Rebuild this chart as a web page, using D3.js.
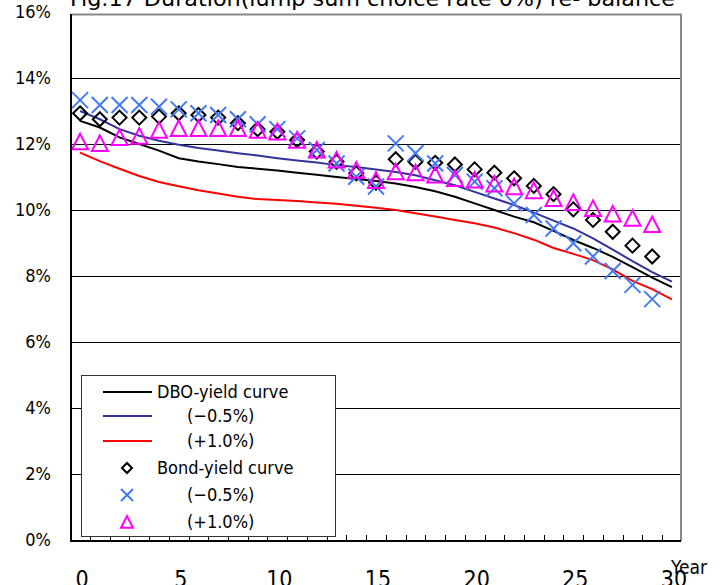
<!DOCTYPE html>
<html>
<head>
<meta charset="utf-8">
<script src="https://cdn.jsdelivr.net/npm/d3@7"></script>
<style>
  body { margin: 0; background: #fff; }
  svg text { font-family: "Liberation Sans Narrow", "DejaVu Sans Condensed", "Liberation Sans", sans-serif; fill: #000; }
</style>
</head>
<body>
<div id="chart"></div>
<script>
// years for lines (0..30) and markers (0..29)
const lineYears = d3.range(0, 31);
const markYears = d3.range(0, 30);

// DBO-yield curve lines (%)
const dboBase = [12.7, 12.5, 12.2, 12.0, 11.8, 11.57, 11.47, 11.39, 11.3, 11.25, 11.2, 11.13, 11.07, 11.0, 10.94, 10.88,
  10.8, 10.7, 10.57, 10.4, 10.2, 10.0, 9.8, 9.63, 9.37, 9.09, 8.85, 8.58, 8.27, 7.95, 7.66];
const dboMinus = [13.0, 12.75, 12.45, 12.25, 12.1, 11.98, 11.88, 11.8, 11.72, 11.65, 11.57, 11.5, 11.44, 11.36, 11.3, 11.23,
  11.15, 11.05, 10.9, 10.75, 10.55, 10.35, 10.15, 9.92, 9.68, 9.44, 9.14, 8.8, 8.45, 8.12, 7.83];
const dboPlus = [11.74, 11.48, 11.25, 11.03, 10.85, 10.72, 10.6, 10.5, 10.4, 10.33, 10.3, 10.27, 10.23, 10.19, 10.13, 10.07,
  10.0, 9.9, 9.8, 9.7, 9.6, 9.47, 9.3, 9.1, 8.85, 8.67, 8.48, 8.2, 7.85, 7.6, 7.29];

// Bond-yield curve markers (%)
const bondBase = [12.93, 12.75, 12.8, 12.8, 12.83, 12.93, 12.88, 12.8, 12.63, 12.45, 12.37, 12.12, 11.77, 11.46, 11.11, 10.83,
  11.54, 11.46, 11.43, 11.38, 11.23, 11.13, 10.96, 10.73, 10.48, 10.02, 9.7, 9.34, 8.92, 8.59];
const bondMinus = [13.33, 13.18, 13.18, 13.18, 13.13, 13.05, 12.93, 12.88, 12.75, 12.6, 12.45, 12.17, 11.82, 11.41, 11.01, 10.71,
  12.02, 11.72, 11.41, 11.06, 10.86, 10.66, 10.2, 9.85, 9.44, 8.99, 8.59, 8.15, 7.73, 7.3];
const bondPlus = [12.07, 12.02, 12.2, 12.24, 12.42, 12.47, 12.47, 12.47, 12.47, 12.42, 12.37, 12.12, 11.82, 11.52, 11.21, 10.9,
  11.16, 11.13, 11.06, 10.96, 10.91, 10.79, 10.71, 10.59, 10.35, 10.23, 10.05, 9.88, 9.75, 9.56];

const yTicks = [0, 2, 4, 6, 8, 10, 12, 14, 16];
const xTicks = [0, 5, 10, 15, 20, 25, 30];
const titleText = "Fig.17 Duration(lump sum choice rate 0%) re- balance";

const lineSeries = [
  { name: "DBO-yield curve", values: dboBase, color: "#000000" },
  { name: "(\u22120.5%)", values: dboMinus, color: "#333399" },
  { name: "(+1.0%)", values: dboPlus, color: "#ff0000" }
];
const markSeries = [
  { name: "Bond-yield curve", values: bondBase, color: "#000000", shape: "diamond" },
  { name: "(\u22120.5%)", values: bondMinus, color: "#4479f5", shape: "cross" },
  { name: "(+1.0%)", values: bondPlus, color: "#ff00ff", shape: "triangle" }
];

var w = 724, h = 585;
var plot = { left: 71, right: 681, top: 14, bottom: 541 };

var svg = d3.select("#chart").append("svg")
  .attr("width", w).attr("height", h);

var x = d3.scaleLinear().domain([-0.46, 30.46]).range([plot.left, plot.right]);
var y = d3.scaleLinear().domain([0, 16]).range([540, 12]);

// title (cut at the top edge)
svg.append("text")
  .attr("x", 70).attr("y", 6)
  .attr("textLength", 605).attr("lengthAdjust", "spacingAndGlyphs")
  .style("font-size", "22px")
  .text(titleText);

// gridlines
svg.append("g")
  .selectAll("line")
  .data(yTicks.filter(d => d > 0 && d < 16))
  .join("line")
  .attr("x1", plot.left).attr("x2", plot.right)
  .attr("y1", d => Math.round(y(d)) + 0.5).attr("y2", d => Math.round(y(d)) + 0.5)
  .attr("stroke", "#000").attr("stroke-width", 1);

// frame: top and right gray
svg.append("path")
  .attr("d", `M${plot.left},${plot.top + 0.5} H${plot.right} V${plot.bottom}`)
  .attr("fill", "none").attr("stroke", "#888").attr("stroke-width", 2);

// y tick labels
svg.append("g")
  .selectAll("text")
  .data(yTicks)
  .join("text")
  .attr("x", 51).attr("y", d => y(d) + 6)
  .attr("text-anchor", "end")
  .style("font-size", "18px")
  .text(d => d + "%");

// lines
var line = d3.line()
  .x((d, i) => x(lineYears[i]))
  .y(d => y(d));

svg.append("g")
  .selectAll("path")
  .data(lineSeries)
  .join("path")
  .attr("fill", "none")
  .attr("stroke", d => d.color)
  .attr("stroke-width", 2)
  .attr("d", d => line(d.values));

// marker shapes
function drawMarker(g, shape, color, s) {
  if (shape == "diamond") {
    g.append("path")
      .attr("d", `M0,${-s} L${s},0 L0,${s} L${-s},0 Z`)
      .attr("fill", "none").attr("stroke", color).attr("stroke-width", 2);
  } else if (shape == "cross") {
    g.append("path")
      .attr("d", `M${-s},${-s} L${s},${s} M${-s},${s} L${s},${-s}`)
      .attr("fill", "none").attr("stroke", color).attr("stroke-width", 2);
  } else {
    g.append("path")
      .attr("d", `M0,${-s} L${s},${s * 0.95} L${-s},${s * 0.95} Z`)
      .attr("fill", "none").attr("stroke", color).attr("stroke-width", 2);
  }
}

var markSize = { diamond: 7, cross: 8, triangle: 8 };

markSeries.forEach(ser => {
  var g = svg.append("g");
  ser.values.forEach((v, i) => {
    var m = g.append("g").attr("transform", `translate(${x(markYears[i])},${y(v)})`);
    drawMarker(m, ser.shape, ser.color, markSize[ser.shape]);
  });
});

// axes lines
svg.append("line")
  .attr("x1", plot.left).attr("x2", plot.right)
  .attr("y1", plot.bottom).attr("y2", plot.bottom)
  .attr("stroke", "#000").attr("stroke-width", 2);
svg.append("line")
  .attr("x1", plot.left).attr("x2", plot.left)
  .attr("y1", plot.top).attr("y2", plot.bottom + 1)
  .attr("stroke", "#000").attr("stroke-width", 2);

// minor ticks between years
svg.append("g")
  .selectAll("line")
  .data(d3.range(0, 30))
  .join("line")
  .attr("x1", d => Math.round(x(d + 0.5)) + 0.5).attr("x2", d => Math.round(x(d + 0.5)) + 0.5)
  .attr("y1", plot.bottom).attr("y2", plot.bottom - 6)
  .attr("stroke", "#000").attr("stroke-width", 1);

svg.append("g")
  .selectAll("text")
  .data(xTicks)
  .join("text")
  .attr("x", d => x(d) + 2).attr("y", 587)
  .attr("text-anchor", "middle")
  .style("font-size", "23px")
  .text(d => d);

svg.append("text")
  .attr("x", 671).attr("y", 574)
  .style("font-size", "19px")
  .text("Year");

// legend
var leg = svg.append("g").attr("transform", "translate(81,375)");
leg.append("rect")
  .attr("x", 0.5).attr("y", 0.5).attr("width", 254).attr("height", 161)
  .attr("fill", "#fff").attr("stroke", "#333").attr("stroke-width", 1);

var rowY = [17, 41, 66, 93, 120, 147];

lineSeries.forEach((ser, i) => {
  leg.append("line")
    .attr("x1", 22).attr("x2", 71)
    .attr("y1", rowY[i]).attr("y2", rowY[i])
    .attr("stroke", ser.color).attr("stroke-width", 2);
});
markSeries.forEach((ser, i) => {
  var m = leg.append("g").attr("transform", `translate(46,${rowY[i + 3]})`);
  drawMarker(m, ser.shape, ser.color, ser.shape == "diamond" ? 5 : 6);
});
lineSeries.concat(markSeries).forEach((ser, i) => {
  leg.append("text")
    .attr("x", i == 0 || i == 3 ? 76 : 106)
    .attr("y", rowY[i] + 6)
    .style("font-size", "18px")
    .text(ser.name);
});
</script>
</body>
</html>
